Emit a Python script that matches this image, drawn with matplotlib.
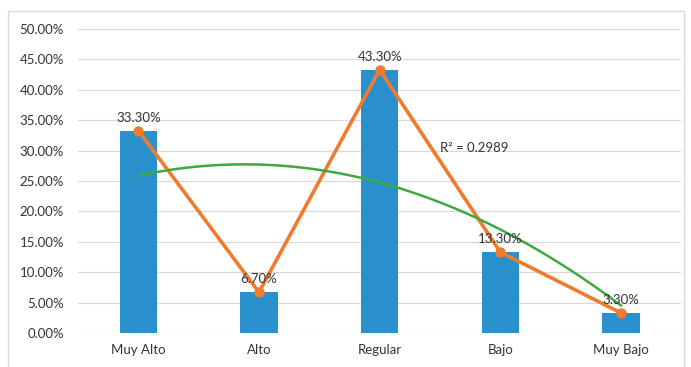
import numpy as np
import matplotlib
matplotlib.use("Agg")
import matplotlib.pyplot as plt
from matplotlib.patches import Rectangle
from matplotlib.ticker import FuncFormatter

categories = ["Muy Alto", "Alto", "Regular", "Bajo", "Muy Bajo"]
values = [0.333, 0.067, 0.433, 0.133, 0.033]
labels = ["33.30%", "6.70%", "43.30%", "13.30%", "3.30%"]
r2_text = "R² = 0.2989"

plt.rcParams['font.family'] = ['Lato', 'DejaVu Sans']
FS = 9.5

fig = plt.figure(figsize=(6.91, 3.67), dpi=100)
ax = fig.add_axes([78/691, 1-333/367, (681.3-78)/691, (333-29)/367])

x = np.arange(len(categories))
ax.bar(x, values, width=0.31, color="#2A90CB", zorder=2)
ax.plot(x, values, color="#F07B2F", lw=2.6, marker="o", ms=6.5, zorder=3)

coef = np.polyfit(x, values, 2)
xs = np.linspace(x[0], x[-1], 200)
ax.plot(xs, np.polyval(coef, xs), color="#3DAA3F", lw=1.8, zorder=4)

for xi, v, lab in zip(x, values, labels):
    ax.annotate(lab, (xi, v), xytext=(0, 5), textcoords="offset points",
                ha="center", va="bottom", fontsize=FS, color="#333333", zorder=5)

ax.text(2.5, 0.305, r2_text, ha="left", va="center", fontsize=FS, color="#333333")

ax.set_xlim(-0.5, 4.5)
ax.set_ylim(0, 0.5)
ax.set_yticks(np.arange(0, 0.501, 0.05))
ax.yaxis.set_major_formatter(FuncFormatter(lambda v, p: f"{v*100:.2f}%"))
ax.set_xticks(x)
ax.set_xticklabels(categories)
ax.tick_params(axis="both", length=0, labelsize=FS, colors="#333333")
ax.tick_params(axis="y", pad=10)
ax.tick_params(axis="x", pad=8)
ax.grid(axis="y", color="#D9D9D9", lw=0.9, zorder=0)
ax.set_axisbelow(True)
for s in ax.spines.values():
    s.set_visible(False)

fig.patches.append(Rectangle((8/691, -0.01), (684-8)/691, 1-11/367+0.01,
                             transform=fig.transFigure, fill=False,
                             edgecolor="#D9D9D9", lw=1))

fig.savefig("out.png", dpi=100)
